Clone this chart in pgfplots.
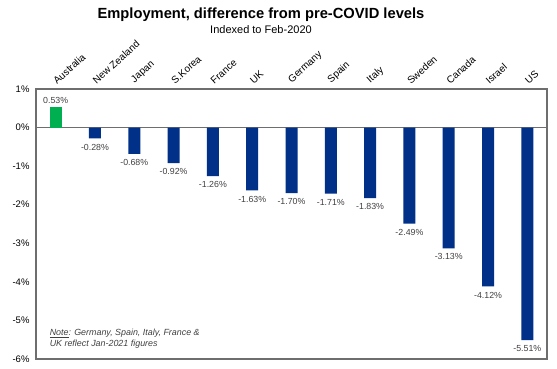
\documentclass[border=0pt]{standalone}
\usepackage{pgfplots}
\pgfplotsset{compat=1.18}
\usepackage{fontspec}
\setmainfont{Liberation Sans}
\definecolor{barblue}{RGB}{0,48,135}
\definecolor{bargreen}{RGB}{0,176,80}
\definecolor{framegray}{RGB}{110,110,110}
\definecolor{labgray}{RGB}{64,64,64}
\begin{document}
\begin{tikzpicture}[x=1pt,y=1pt]
\useasboundingbox (0,0) rectangle (557,369);
\node[font=\bfseries\fontsize{14.7}{16}\selectfont] at (261,354) {Employment, difference from pre-COVID levels};
\node[font=\fontsize{11}{12}\selectfont] at (261,339.5) {Indexed to Feb-2020};
\begin{axis}[
  at={(36pt,10pt)}, anchor=south west,
  scale only axis, width=511pt, height=270pt,
  xmin=-0.5, xmax=12.5, ymin=-6, ymax=1,
  axis line style={framegray, line width=1.1pt},
  xtick={0,...,12},
  xticklabels={Australia,New Zealand,Japan,S.Korea,France,UK,Germany,Spain,Italy,Sweden,Canada,Israel,US},
  xticklabel pos=upper,
  xticklabel style={rotate=42, anchor=south west, font=\fontsize{10}{10}\selectfont, xshift=3pt, yshift=1pt, inner sep=1pt},
  ytick={-6,-5,-4,-3,-2,-1,0,1},
  yticklabels={-6\%,-5\%,-4\%,-3\%,-2\%,-1\%,0\%,1\%},
  yticklabel style={font=\fontsize{9.5}{10}\selectfont, xshift=-3pt},
  major tick length=0pt,
  ybar, bar width=12pt, bar shift=0pt,
  nodes near coords={\pgfmathprintnumber[fixed,fixed zerofill,precision=2,assume math mode=true]{\pgfplotspointmeta}\%},
  nodes near coords style={font=\fontsize{8.8}{9}\selectfont, text=labgray},
  clip=false,
  extra y ticks={0}, extra y tick labels={},
  extra y tick style={grid=major, major grid style={framegray, line width=0.8pt}},
]
\addplot[fill=bargreen, draw=none] coordinates {(0,0.53)};
\addplot[fill=barblue, draw=none, nodes near coords style={anchor=north, yshift=-2pt}] coordinates {
(1,-0.28) (2,-0.68) (3,-0.92) (4,-1.26) (5,-1.63) (6,-1.70) (7,-1.71) (8,-1.83) (9,-2.49) (10,-3.13) (11,-4.12) (12,-5.51)};
\node[anchor=south west, align=left, font=\itshape\fontsize{8.9}{11}\selectfont, text=labgray] at (rel axis cs:0.02,0.025) {\underline{Note}: Germany, Spain, Italy, France \&\\UK reflect Jan-2021 figures};
\end{axis}
\end{tikzpicture}
\end{document}
